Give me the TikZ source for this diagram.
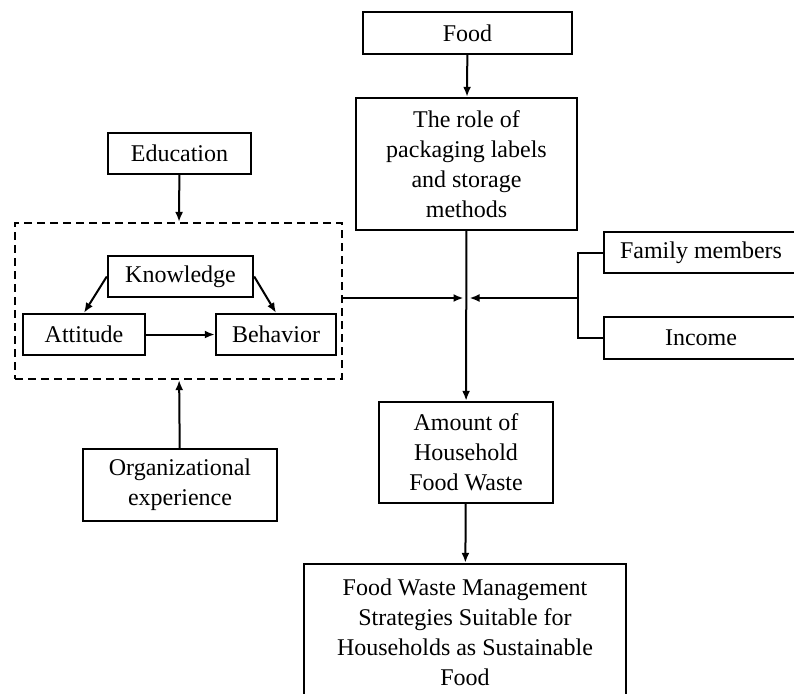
\documentclass[tikz,border=0pt]{standalone}
\usepackage{fontspec}
\setmainfont{Liberation Serif}
\usetikzlibrary{arrows.meta}
\tikzset{
  blk/.style={draw,line width=1.2pt,inner sep=0pt,align=center,font=\fontsize{12}{15}\selectfont},
  arr/.style={-{Latex[length=5pt,width=4pt]},line width=1pt},
  lnk/.style={line width=1pt}
}
\begin{document}
\begin{tikzpicture}[x=0.5pt,y=-0.5pt]
\useasboundingbox (0,0) rectangle (794,693);
\clip (0,0) rectangle (794,693);

\node[blk,minimum width=104.5pt,minimum height=21pt] (food) at (467.5,33) {Food};
\node[blk,minimum width=110.5pt,minimum height=66pt] (role) at (466.5,164) {The role of\\packaging labels\\and storage\\methods};
\node[blk,minimum width=71.5pt,minimum height=20.5pt] (edu) at (179.5,153.5) {Education};
\node[draw,dash pattern=on 4pt off 2.5pt,line width=1.1pt,inner sep=0pt,minimum width=163.5pt,minimum height=78pt] (grp) at (178.5,301) {};
\node[blk,minimum width=72.5pt,minimum height=20.5pt] (know) at (180.5,276.5) {Knowledge};
\node[blk,minimum width=61pt,minimum height=20.5pt] (att) at (84,334.5) {Attitude};
\node[blk,minimum width=60pt,minimum height=20.5pt] (beh) at (276,334.5) {Behavior};
\node[blk,minimum width=97pt,minimum height=20.5pt] (fam) at (701,252.5) {Family members};
\node[blk,minimum width=97pt,minimum height=21pt] (inc) at (701,338) {Income};
\node[blk,minimum width=87pt,minimum height=50.5pt] (amt) at (466,452.5) {Amount of\\Household\\Food Waste};
\node[blk,minimum width=97pt,minimum height=36pt] (org) at (180,485) {Organizational\\experience};
\node[blk,minimum width=161pt,minimum height=68pt] (strat) at (465,632) {Food Waste Management\\Strategies Suitable for\\Households as Sustainable\\Food};

\coordinate (jn) at (466.5,298);
\coordinate (br) at (578,298);

\draw[arr] (food) -- (role);
\draw[arr] (edu) -- (grp);
\draw[arr] (org) -- (grp);
\draw[arr] (know.west) -- (att.north);
\draw[arr] (know.east) -- (beh.north);
\draw[arr] (att) -- (beh);
\draw[arr] (role) -- (amt);
\draw[arr] (amt) -- (strat);
\draw[arr,shorten >=1.5pt] (grp.east |- jn) -- (jn);
\draw[lnk] (fam.west) -| (br) |- (inc.west);
\draw[arr,shorten >=1.5pt] (br) -- (jn);

\end{tikzpicture}
\end{document}
